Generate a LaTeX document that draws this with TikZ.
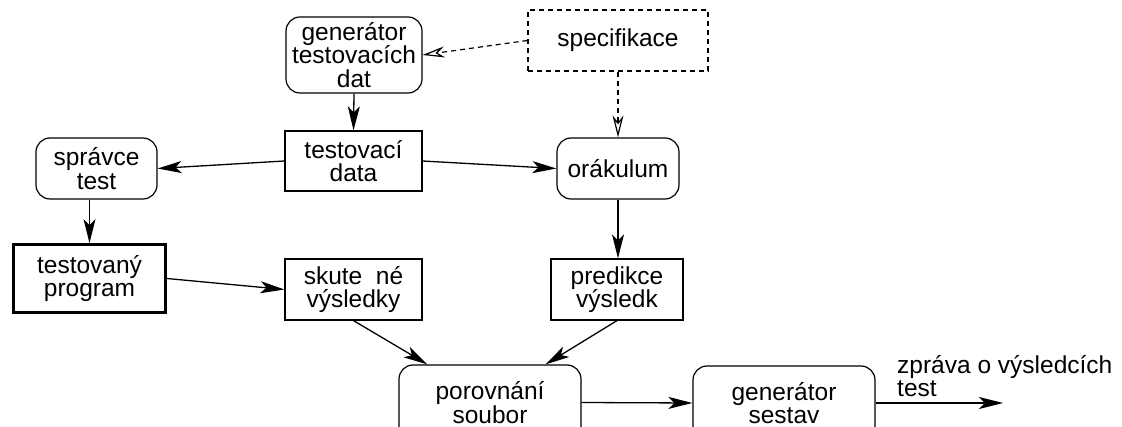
\documentclass[tikz,border=0pt]{standalone}
\usepackage{fontspec}
\setmainfont{Liberation Sans}
\usetikzlibrary{arrows.meta}
\begin{document}
\begin{tikzpicture}[x=1pt,y=-1pt,
  every node/.style={font=\fontsize{24.5}{23.5}\selectfont, align=center, inner sep=0pt},
  rbox/.style={draw, rounded corners=14pt, line width=1.2pt},
  sbox/.style={draw, line width=1.2pt},
  tbox/.style={draw, line width=2.8pt},
  arr/.style={line width=1.3pt, -{Stealth[length=24pt,width=12pt,inset=6pt]}},
  darr/.style={line width=1.2pt, dash pattern=on 5pt off 4pt, -{Stealth[open,length=22pt,width=11pt,inset=7pt]}}]
\useasboundingbox (0,0) rectangle (1122,427);
\clip (0,0) rectangle (1122,427);

\node[rbox, minimum width=136pt, minimum height=76pt] (gen) at (354,55) {generátor\\testovacích\\dat};
\node[sbox, dash pattern=on 5pt off 4pt, minimum width=180pt, minimum height=61pt] (spec) at (618,40.5) {specifikace};
\node[sbox, minimum width=137pt, minimum height=60pt] (td) at (353.5,161) {testovací\\data};
\node[rbox, minimum width=121pt, minimum height=61pt] (spr) at (96.5,168.5) {správce\\test};
\node[rbox, minimum width=122pt, minimum height=61pt] (ora) at (618,168.5) {orákulum};
\node[tbox, minimum width=152pt, minimum height=68pt] (tp) at (89.5,278.5) {testovaný\\program};
\node[sbox, minimum width=137pt, minimum height=61pt] (sk) at (353.5,289.5) {skute\ \ né\\výsledky};
\node[sbox, minimum width=132pt, minimum height=61pt] (pr) at (617,289.5) {predikce\\výsledk};
\node[rbox, minimum width=182pt, minimum height=75pt] (por) at (490,402.5) {porovnání\\soubor};
\node[rbox, minimum width=182pt, minimum height=74pt] (gs) at (784,403) {generátor\\sestav};
\coordinate (out) at (1003,403);
\node[anchor=south west, align=left] (lbl) at (897,397) {zpráva o výsledcích\\test};

\draw[darr] (spec.west) -- (gen.east);
\draw[darr] (spec.south) -- (ora.north);
\draw[arr] (gen.south) -- (td.north);
\draw[arr] (td.west) -- (spr.east);
\draw[arr] (td.east) -- (ora.west);
\draw[arr] (tp.north |- spr.south) -- (tp.north);
\draw[arr] (ora.south) -- (pr.north -| ora.south);
\draw[arr] (tp.east) -- (sk.west);
\draw[arr] (sk.south) -- ([xshift=29pt]por.north west);
\draw[arr] (pr.south) -- ([xshift=-36pt]por.north east);
\draw[arr] (por.east) -- (gs.west);
\draw[arr] (gs.east) -- (out);
\end{tikzpicture}
\end{document}
